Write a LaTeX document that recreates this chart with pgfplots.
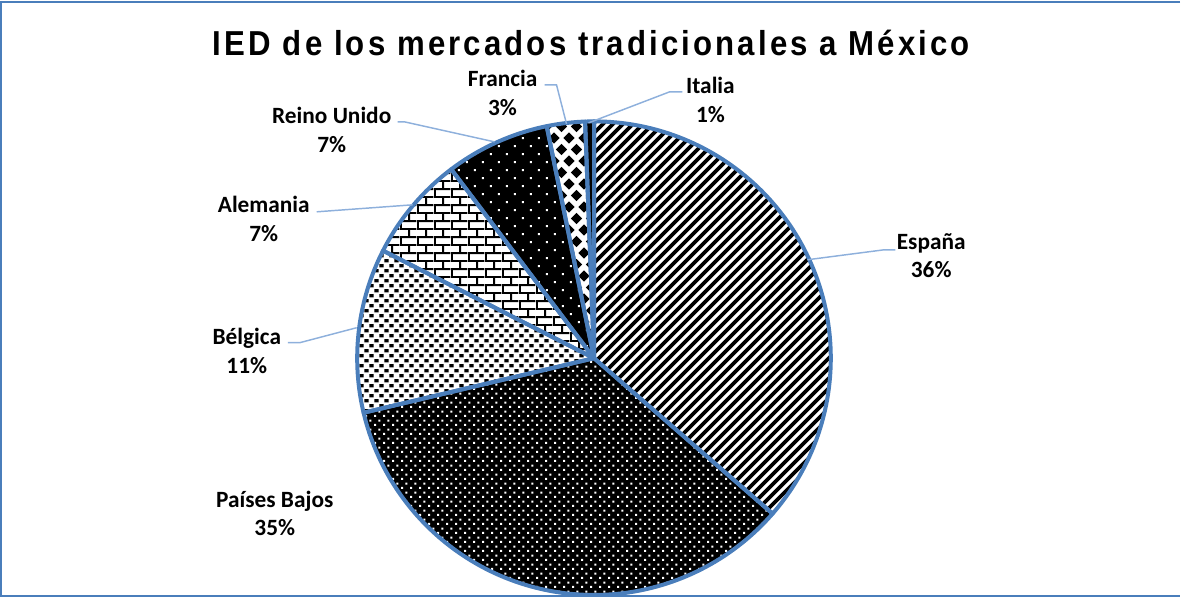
\documentclass[border=0pt]{standalone}
\usepackage{pgfplots}
\pgfplotsset{compat=1.18}
\usepackage{pgfplotstable}
\usetikzlibrary{patterns}
\usepackage{fontspec}
\setmainfont{Carlito}
\newfontfamily\titlefont[LetterSpace=9,FakeStretch=0.9]{Liberation Sans}
\definecolor{pieblue}{HTML}{4A7EBB}
\definecolor{leader}{HTML}{8EB0DC}

% ---------- patterns (sizes in pt; 1 px of the reference = 0.75 pt) ----------
\pgfdeclarepatternformonly{espstripes}{\pgfqpoint{0pt}{0pt}}{\pgfqpoint{7.5pt}{7.5pt}}{\pgfqpoint{7.5pt}{7.5pt}}{%
  \pgfsetlinewidth{2.8pt}%
  \pgfpathmoveto{\pgfqpoint{-1pt}{-1pt}}\pgfpathlineto{\pgfqpoint{8.5pt}{8.5pt}}%
  \pgfpathmoveto{\pgfqpoint{-4.75pt}{2.75pt}}\pgfpathlineto{\pgfqpoint{4.75pt}{12.25pt}}%
  \pgfpathmoveto{\pgfqpoint{2.75pt}{-4.75pt}}\pgfpathlineto{\pgfqpoint{12.25pt}{4.75pt}}%
  \pgfusepath{stroke}}
\pgfdeclarepatternformonly{pbdots}{\pgfqpoint{0pt}{0pt}}{\pgfqpoint{6.5pt}{6.5pt}}{\pgfqpoint{6.5pt}{6.5pt}}{%
  \pgfpathrectangle{\pgfqpoint{0.9pt}{0.9pt}}{\pgfqpoint{1.5pt}{1.5pt}}%
  \pgfpathrectangle{\pgfqpoint{4.15pt}{4.15pt}}{\pgfqpoint{1.5pt}{1.5pt}}%
  \pgfusepath{fill}}
\pgfdeclarepatternformonly{rudots}{\pgfqpoint{0pt}{0pt}}{\pgfqpoint{12pt}{12pt}}{\pgfqpoint{12pt}{12pt}}{%
  \pgfpathrectangle{\pgfqpoint{2.25pt}{2.25pt}}{\pgfqpoint{1.5pt}{1.5pt}}%
  \pgfpathrectangle{\pgfqpoint{8.25pt}{8.25pt}}{\pgfqpoint{1.5pt}{1.5pt}}%
  \pgfusepath{fill}}
\pgfdeclarepatternformonly{belgdots}{\pgfqpoint{0pt}{0pt}}{\pgfqpoint{7.5pt}{7.5pt}}{\pgfqpoint{7.5pt}{7.5pt}}{%
  \pgfpathrectangle{\pgfqpoint{0.3pt}{0.4pt}}{\pgfqpoint{3.2pt}{2.6pt}}%
  \pgfpathrectangle{\pgfqpoint{4.05pt}{4.15pt}}{\pgfqpoint{3.2pt}{2.6pt}}%
  \pgfusepath{fill}}
\pgfdeclarepatternformonly{mybricks}{\pgfqpoint{0pt}{0pt}}{\pgfqpoint{12.5pt}{12pt}}{\pgfqpoint{12.5pt}{12pt}}{%
  \pgfpathrectangle{\pgfqpoint{0pt}{0pt}}{\pgfqpoint{12.5pt}{1.4pt}}%
  \pgfpathrectangle{\pgfqpoint{0pt}{6pt}}{\pgfqpoint{12.5pt}{1.4pt}}%
  \pgfpathrectangle{\pgfqpoint{0pt}{0pt}}{\pgfqpoint{1.4pt}{6pt}}%
  \pgfpathrectangle{\pgfqpoint{6.25pt}{6pt}}{\pgfqpoint{1.4pt}{6pt}}%
  \pgfusepath{fill}}
\def\diamondat#1#2{%
  \pgfpathmoveto{\pgfpoint{#1pt-4.2pt}{#2pt}}%
  \pgfpathlineto{\pgfpoint{#1pt}{#2pt+4.2pt}}%
  \pgfpathlineto{\pgfpoint{#1pt+4.2pt}{#2pt}}%
  \pgfpathlineto{\pgfpoint{#1pt}{#2pt-4.2pt}}%
  \pgfpathclose}
\pgfdeclarepatternformonly{diamonds}{\pgfqpoint{0pt}{0pt}}{\pgfqpoint{11.25pt}{17.25pt}}{\pgfqpoint{11.25pt}{17.25pt}}{%
  \diamondat{5.625}{8.625}\diamondat{0}{0}\diamondat{11.25}{0}\diamondat{0}{17.25}\diamondat{11.25}{17.25}%
  \pgfusepath{fill}}

% ---------- data ----------
\pgfplotstableread[col sep=comma]{
pais,valor
España,36.4
Países Bajos,34.9
Bélgica,11.2
Alemania,7.2
Reino Unido,7.1
Francia,2.6
Italia,0.6
}\datos

\def\acc{90}%
\pgfplotsforeachungrouped \i in {0,...,6}{%
  \pgfplotstablegetelem{\i}{valor}\of\datos
  \let\val\pgfplotsretval
  \pgfmathsetmacro{\nxt}{\acc-3.6*\val}%
  \edef\rn{\romannumeral\numexpr\i+1\relax}%
  \expandafter\xdef\csname aS\rn\endcsname{\nxt}%
  \expandafter\xdef\csname aE\rn\endcsname{\acc}%
  \pgfmathtruncatemacro{\pc}{round(\val)}%
  \expandafter\xdef\csname pc\rn\endcsname{\pc}%
  \xdef\acc{\nxt}%
}

\newcommand\slicefill[3]{%
  \addplot[draw=none,#3,domain=#1:#2,samples=120]
    ({594.5+237*cos(x)},{239.5+237*sin(x)}) -- (axis cs:594.5,239.5) -- cycle;}
\newcommand\sliceedge[2]{%
  \addplot[draw=pieblue,line width=3pt,line join=round,fill=none,domain=#1:#2,samples=120]
    ({594.5+237*cos(x)},{239.5+237*sin(x)}) -- (axis cs:594.5,239.5) -- cycle;}

\begin{document}
\begin{tikzpicture}
\begin{axis}[
  scale only axis, width=885.75pt, height=448.5pt,
  xmin=0, xmax=1181, ymin=0, ymax=598,
  hide axis, clip=false,
]
% slices
\slicefill{\aSi}{\aEi}{fill=white,postaction={pattern=espstripes,pattern color=black}}
\slicefill{\aSii}{\aEii}{fill=black,postaction={pattern=pbdots,pattern color=white}}
\slicefill{\aSiii}{\aEiii}{fill=white,postaction={pattern=belgdots,pattern color=black}}
\slicefill{\aSiv}{\aEiv}{fill=white,postaction={pattern=mybricks,pattern color=black}}
\slicefill{\aSv}{\aEv}{fill=black,postaction={pattern=rudots,pattern color=white}}
\slicefill{\aSvi}{\aEvi}{fill=white,postaction={pattern=diamonds,pattern color=black}}
\slicefill{\aSvii}{\aEvii}{fill=black}
\sliceedge{\aSi}{\aEi}
\sliceedge{\aSii}{\aEii}
\sliceedge{\aSiii}{\aEiii}
\sliceedge{\aSiv}{\aEiv}
\sliceedge{\aSv}{\aEv}
\sliceedge{\aSvi}{\aEvi}
\sliceedge{\aSvii}{\aEvii}

% leader lines
\draw[leader,line width=1.1pt] (axis cs:589,475) -- (axis cs:670,506) -- (axis cs:683,506);
\draw[leader,line width=1.1pt] (axis cs:567,474) -- (axis cs:557,513) -- (axis cs:545,513);
\draw[leader,line width=1.1pt] (axis cs:495,456) -- (axis cs:405,476) -- (axis cs:398,476);
\draw[leader,line width=1.1pt] (axis cs:413,393) -- (axis cs:317,386);
\draw[leader,line width=1.1pt] (axis cs:357,270) -- (axis cs:300,255) -- (axis cs:288,255);
\draw[leader,line width=1.1pt] (axis cs:808,338) -- (axis cs:885,348) -- (axis cs:896,348);

% labels
\tikzset{lab/.style={align=center,font=\fontsize{17.5}{21.5}\selectfont\bfseries,inner sep=0pt}}
\node[lab] at (axis cs:932,342) {España\\\pci\%};
\node[lab] at (axis cs:275,84) {Países Bajos\\\pcii\%};
\node[lab] at (axis cs:247,247) {Bélgica\\\pciii\%};
\node[lab] at (axis cs:264,379) {Alemania\\\pciv\%};
\node[lab] at (axis cs:332,468) {Reino Unido\\\pcv\%};
\node[lab] at (axis cs:503,505) {Francia\\\pcvi\%};
\node[lab] at (axis cs:711,498) {Italia\\\pcvii\%};

% title
\node[font=\titlefont\bfseries\fontsize{26}{30}\selectfont,inner sep=0pt] at (axis cs:592,555) {IED de los mercados tradicionales a México};

% frame
\draw[pieblue,line width=1.5pt] (axis cs:1181,595.5) -- (axis cs:1.5,595.5) -- (axis cs:1.5,1.5) -- (axis cs:1181,1.5);
\path (axis cs:0,0) rectangle (axis cs:1181,598);
\end{axis}
\end{tikzpicture}
\end{document}
